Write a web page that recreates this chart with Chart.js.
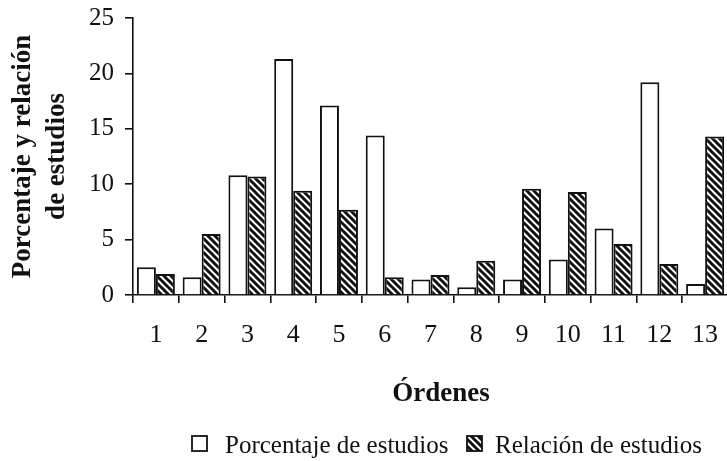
<!DOCTYPE html>
<html>
<head>
<meta charset="utf-8">
<script src="https://cdn.jsdelivr.net/npm/chart.js@4"></script>
<style>
  html, body { margin:0; padding:0; background:#fff; overflow:hidden; }
  #wrap { width:727px; height:461px; overflow:hidden; }
</style>
</head>
<body>
<div id="wrap"><canvas id="chart" width="745" height="461"></canvas></div>
<script>
// data
const ordenes = ['1','2','3','4','5','6','7','8','9','10','11','12','13'];
const porcentajeEstudios = [2.5, 1.6, 10.8, 21.3, 17.1, 14.4, 1.4, 0.7, 1.4, 3.2, 6.0, 19.2, 1.0];
const relacionEstudios = [1.9, 5.5, 10.7, 9.4, 7.7, 1.6, 1.8, 3.1, 9.6, 9.3, 4.6, 2.8, 14.3];
const yTicks = [0, 5, 10, 15, 20, 25];

const INK = '#111';
const SERIF = '"Liberation Serif", "Times New Roman", serif';

// diagonal hatch ("\\\") like the printed figure
function makeHatch(){
  const s = 7;
  const c = document.createElement('canvas');
  c.width = s; c.height = s;
  const g = c.getContext('2d');
  g.fillStyle = '#fff';
  g.fillRect(0, 0, s, s);
  g.strokeStyle = INK;
  g.lineWidth = 3;
  for (const o of [-s, 0, s]) {
    g.beginPath();
    g.moveTo(o - 1, -1);
    g.lineTo(o + s + 1, s + 1);
    g.stroke();
  }
  return g.createPattern(c, 'repeat');
}
const hatch = makeHatch();

// x title + legend drawn under the axis
const extras = {
  id: 'extras',
  afterDraw(chart){
    const ctx = chart.ctx;
    ctx.save();
    ctx.fillStyle = INK;
    ctx.font = 'bold 27px ' + SERIF;
    ctx.textAlign = 'center';
    ctx.textBaseline = 'middle';
    ctx.fillText('Órdenes', 441, 394);

    const items = [
      {x: 192, tx: 225, ds: chart.data.datasets[0]},
      {x: 467, tx: 495, ds: chart.data.datasets[1]}
    ];
    ctx.font = '25px ' + SERIF;
    ctx.textAlign = 'left';
    ctx.textBaseline = 'alphabetic';
    items.forEach(it => {
      ctx.fillStyle = it.ds.backgroundColor;
      ctx.fillRect(it.x, 436, 15, 15);
      ctx.strokeStyle = INK;
      ctx.lineWidth = 1.8;
      ctx.strokeRect(it.x, 436, 15, 15);
      ctx.fillStyle = INK;
      ctx.fillText(it.ds.label, it.tx, 453);
    });
    ctx.restore();
  }
};

new Chart(document.getElementById('chart'), {
  type: 'bar',
  data: {
    labels: ordenes,
    datasets: [
      { label: 'Porcentaje de estudios', data: porcentajeEstudios, backgroundColor: '#fff', borderColor: INK, borderWidth: 2 },
      { label: 'Relación de estudios', data: relacionEstudios, backgroundColor: hatch, borderColor: INK, borderWidth: 2 }
    ]
  },
  options: {
    responsive: false,
    animation: false,
    layout: { padding: { left: 0, right: 17, top: 18, bottom: 41 } },
    datasets: { bar: { categoryPercentage: 0.83, barPercentage: 1 } },
    plugins: { legend: { display: false }, tooltip: { enabled: false } },
    scales: {
      x: {
        grid: { display: true, drawOnChartArea: false, drawTicks: true, tickLength: 8, color: INK, lineWidth: 1.6 },
        border: { display: true, color: INK, width: 1.6 },
        ticks: { color: INK, font: { family: SERIF, size: 26 }, padding: 17, maxRotation: 0, autoSkip: false },
        afterFit(scale){ scale.height = 125; }
      },
      y: {
        min: 0, max: 25,
        afterBuildTicks(scale){ scale.ticks = yTicks.map(v => ({ value: v })); },
        grid: { display: true, drawOnChartArea: false, drawTicks: true, tickLength: 8, color: INK, lineWidth: 1.6 },
        border: { display: true, color: INK, width: 1.6 },
        ticks: { color: INK, font: { family: SERIF, size: 25 }, padding: 11 },
        title: {
          display: true,
          text: ['Porcentaje y relación', 'de estudios'],
          color: INK,
          font: { family: SERIF, size: 27, weight: 'bold', lineHeight: 1.25 },
          padding: { top: 6, bottom: 0 }
        },
        afterFit(scale){ scale.width = 133; scale.paddingTop = 0; scale.paddingBottom = 0; }
      }
    }
  },
  plugins: [extras]
});
</script>
</body>
</html>
